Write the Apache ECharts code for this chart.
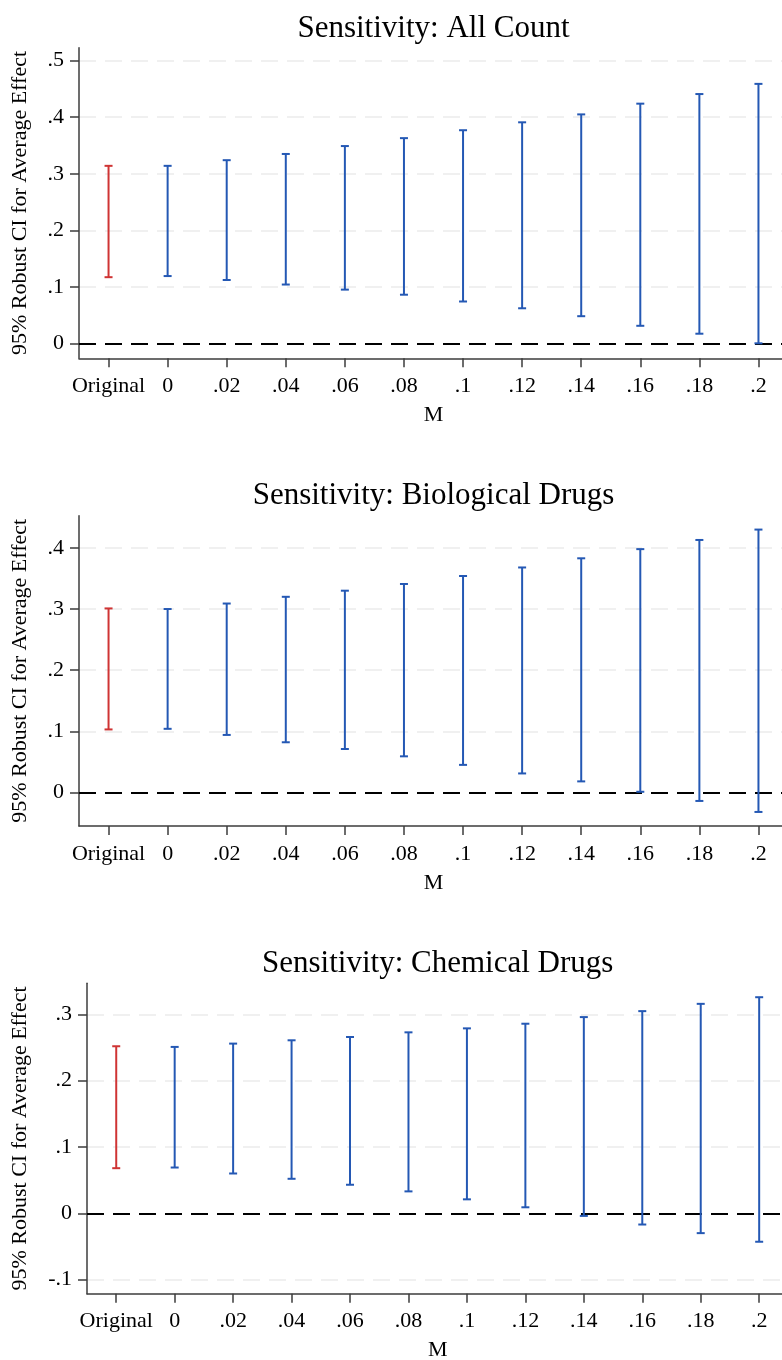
<!DOCTYPE html>
<html>
<head>
<meta charset="utf-8">
<script src="https://cdn.jsdelivr.net/npm/echarts@6/dist/echarts.min.js"></script>
<style>
  body { margin: 0; background: #fff; }
  #chart { width: 782px; height: 1360px; }
</style>
</head>
<body>
<div id="chart"></div>
<script>
(function () {
    // categories on the x axis (sensitivity parameter M)
    var categories = ['Original', '0', '.02', '.04', '.06', '.08', '.1', '.12', '.14', '.16', '.18', '.2'];

    // panel 1: All Count
    var allLow  = [0.117, 0.119, 0.112, 0.104, 0.095, 0.086, 0.074, 0.062, 0.048, 0.031, 0.017, 0.000];
    var allHigh = [0.314, 0.314, 0.324, 0.335, 0.349, 0.363, 0.377, 0.391, 0.405, 0.424, 0.441, 0.459];
    var allTicks = [0, 0.1, 0.2, 0.3, 0.4, 0.5];

    // panel 2: Biological Drugs
    var bioLow  = [0.103, 0.104, 0.094, 0.082, 0.071, 0.059, 0.045, 0.031, 0.018, 0.001, -0.014, -0.032];
    var bioHigh = [0.301, 0.300, 0.309, 0.320, 0.330, 0.341, 0.354, 0.368, 0.383, 0.398, 0.413, 0.430];
    var bioTicks = [0, 0.1, 0.2, 0.3, 0.4];

    // panel 3: Chemical Drugs
    var chemLow  = [0.068, 0.069, 0.060, 0.052, 0.043, 0.033, 0.021, 0.009, -0.004, -0.017, -0.030, -0.043];
    var chemHigh = [0.252, 0.251, 0.256, 0.261, 0.266, 0.273, 0.279, 0.286, 0.296, 0.305, 0.316, 0.326];
    var chemTicks = [-0.1, 0, 0.1, 0.2, 0.3];

    var titles = ['Sensitivity: All Count', 'Sensitivity: Biological Drugs', 'Sensitivity: Chemical Drugs'];

    var FONT = 'Liberation Serif';
    var RED = '#cf3434';
    var BLUE = '#2458b4';
    var AXIS = '#3c3c3c';

    var panels = [
        { low: allLow,  high: allHigh,  ticks: allTicks,  left: 79, top: 47.7,  height: 310.6, right: -6,   min: -0.0265, max: 0.523,  nameGap: 48, titleY: 28.5 },
        { low: bioLow,  high: bioHigh,  ticks: bioTicks,  left: 79, top: 515.7, height: 310.3, right: -6,   min: -0.055,  max: 0.4527, nameGap: 48, titleY: 496 },
        { low: chemLow, high: chemHigh, ticks: chemTicks, left: 87, top: 983.3, height: 310.4, right: -6.4, min: -0.1214, max: 0.347,  nameGap: 56, titleY: 964.3 }
    ];

    var fmt = function (v) {
        if (v === 0) return '0';
        return String(Math.round(v * 100) / 100).replace('0.', '.');
    };

    var renderBar = function (params, api) {
        var idx = api.value(0);
        var lo = api.coord([idx, api.value(1)]);
        var hi = api.coord([idx, api.value(2)]);
        var color = idx === 0 ? RED : BLUE;
        var half = 4;
        var st = { stroke: color, lineWidth: 2 };
        return {
            type: 'group',
            children: [
                { type: 'line', shape: { x1: lo[0], y1: lo[1], x2: hi[0], y2: hi[1] }, style: st },
                { type: 'line', shape: { x1: lo[0] - half, y1: lo[1], x2: lo[0] + half, y2: lo[1] }, style: st },
                { type: 'line', shape: { x1: hi[0] - half, y1: hi[1], x2: hi[0] + half, y2: hi[1] }, style: st }
            ]
        };
    };

    var grids = [], xAxes = [], yAxes = [], series = [], graphics = [];

    panels.forEach(function (p, i) {
        grids.push({ left: p.left, right: p.right, top: p.top, height: p.height, outerBoundsMode: 'none', containLabel: false });

        xAxes.push({
            type: 'category',
            gridIndex: i,
            data: categories,
            boundaryGap: true,
            name: 'M',
            nameLocation: 'middle',
            nameGap: 46,
            nameTextStyle: { fontFamily: FONT, fontSize: 22, color: '#000' },
            axisLine: { show: true, onZero: false, lineStyle: { color: AXIS, width: 1.5 } },
            axisTick: { show: true, inside: false, alignWithLabel: true, interval: 0, length: 9, lineStyle: { color: AXIS, width: 1.5 } },
            axisLabel: { interval: 0, margin: 17, fontFamily: FONT, fontSize: 22, color: '#000' },
            splitLine: { show: false }
        });

        yAxes.push({
            type: 'value',
            gridIndex: i,
            min: p.min,
            max: p.max,
            name: '95% Robust CI for Average Effect',
            nameLocation: 'middle',
            nameGap: p.nameGap,
            nameTextStyle: { fontFamily: FONT, fontSize: 22, color: '#000' },
            axisLine: { show: true, onZero: false, lineStyle: { color: AXIS, width: 1.5 } },
            axisTick: { show: true, inside: false, length: 9, customValues: p.ticks, lineStyle: { color: AXIS, width: 1.5 } },
            axisLabel: { customValues: p.ticks, margin: 15, fontFamily: FONT, fontSize: 22, color: '#000', formatter: fmt },
            splitLine: { show: true, lineStyle: { color: '#ebebeb', width: 1.5, type: [17, 9] } }
        });

        var data = categories.map(function (c, k) { return [k, p.low[k], p.high[k]]; });

        series.push({
            type: 'custom',
            xAxisIndex: i,
            yAxisIndex: i,
            renderItem: renderBar,
            data: data,
            silent: true,
            z: 3,
            markLine: {
                silent: true,
                symbol: 'none',
                z: 2,
                label: { show: false },
                lineStyle: { color: '#000', width: 2, type: [17, 9] },
                data: [{ yAxis: 0 }]
            }
        });

        graphics.push({
            type: 'text',
            x: p.left + (782 - p.right - p.left) / 2,
            y: p.titleY,
            style: {
                text: titles[i],
                fontFamily: FONT,
                fontSize: 31,
                fill: '#000',
                align: 'center',
                verticalAlign: 'middle'
            }
        });
    });

    var chart = echarts.init(document.getElementById('chart'), null, { renderer: 'canvas' });
    chart.setOption({
        backgroundColor: '#fff',
        animation: false,
        grid: grids,
        xAxis: xAxes,
        yAxis: yAxes,
        series: series,
        graphic: graphics
    });
})();
</script>
</body>
</html>
